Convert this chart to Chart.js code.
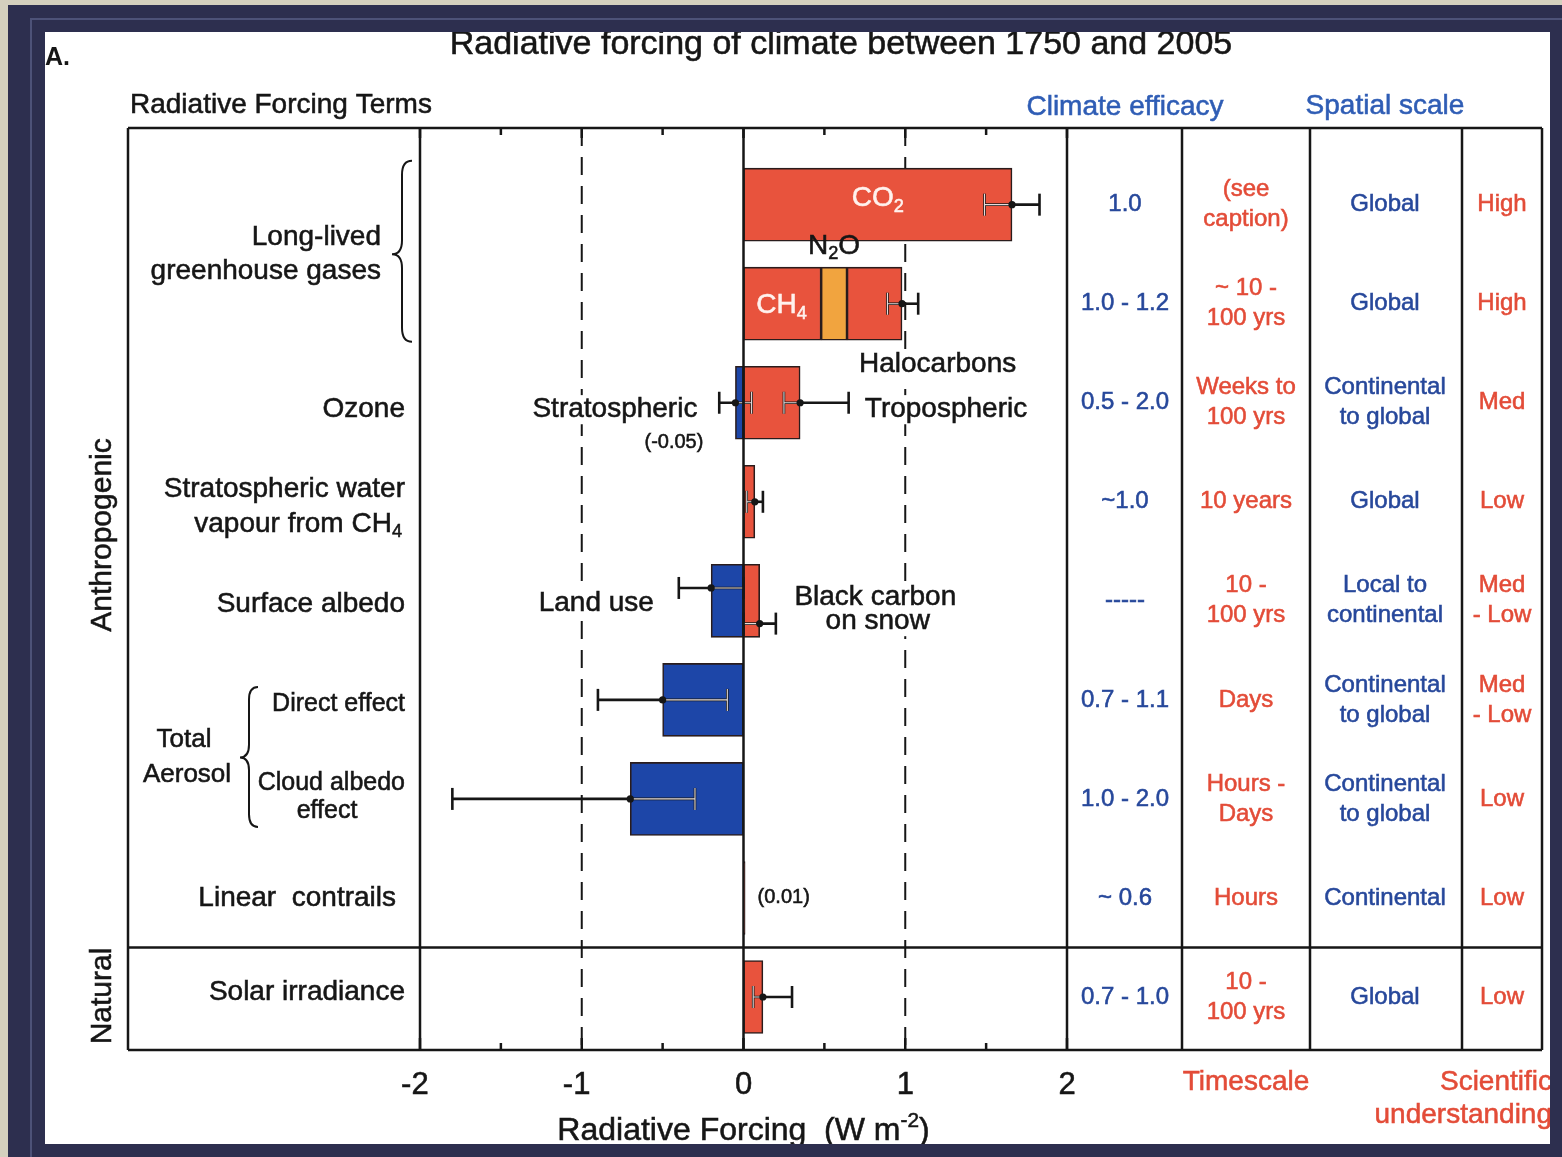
<!DOCTYPE html>
<html>
<head>
<meta charset="utf-8">
<title>Radiative forcing of climate between 1750 and 2005</title>
<script src="https://cdn.jsdelivr.net/npm/chart.js@4.4.1/dist/chart.umd.min.js"></script>
<style>
  html, body { margin: 0; padding: 0; }
  body { width: 1562px; height: 1157px; background: #d4d0be; position: relative; overflow: hidden; }
  #frame { position: absolute; left: 8px; top: 5px; right: 0; bottom: 0; background: #2d2f4f; }
  #ring { position: absolute; left: 30px; top: 18px; right: 0; bottom: 0; border-left: 2px solid #4d5278; border-top: 2px solid #4d5278; }
  #panel { position: absolute; left: 45px; top: 32px; width: 1505px; height: 1112px; background: #fff; overflow: hidden; }
  #chart { position: absolute; left: -45px; top: -32px; width: 1562px; height: 1157px; }
</style>
</head>
<body>
<div id="frame"></div>
<div id="ring"></div>
<div id="panel"><canvas id="chart" width="1562" height="1157"></canvas></div>
<script>
"use strict";

// ---- data ------------------------------------------------------------
// one bar segment per forcing component (W m-2), row = line of the figure
const components   = ["CO2", "CH4", "N2O", "Halocarbons", "Stratospheric ozone", "Tropospheric ozone",
                      "Stratospheric water vapour", "Land use", "Black carbon on snow",
                      "Direct effect", "Cloud albedo effect", "Linear contrails", "Solar irradiance"];
const componentRow = [0, 1, 1, 1, 2, 2, 3, 4, 4, 5, 6, 7, 8];
const forcing      = [1.66, 0.48, 0.16, 0.34, -0.05, 0.35, 0.07, -0.20, 0.10, -0.50, -0.70, 0.01, 0.12];

// uncertainty ranges
const rangeRow  = [0, 1, 2, 2, 3, 4, 4, 5, 6, 8];
const rangeBest = [1.66, 0.98, -0.05, 0.35, 0.07, -0.20, 0.10, -0.50, -0.70, 0.12];
const rangeLow  = [1.49, 0.89, -0.15, 0.25, 0.02, -0.40, 0.00, -0.90, -1.80, 0.06];
const rangeHigh = [1.83, 1.08, 0.05, 0.65, 0.12, 0.00, 0.20, -0.10, -0.30, 0.30];

const xTicks      = [-2, -1, 0, 1, 2];
const xMinorTicks = [-1.5, -0.5, 0.5, 1.5];

// table columns, one entry per row
const efficacy  = ["1.0", "1.0 - 1.2", "0.5 - 2.0", "~1.0", "-----", "0.7 - 1.1", "1.0 - 2.0", "~ 0.6", "0.7 - 1.0"];
const timescale = [["(see", "caption)"], ["~ 10 -", "100 yrs"], ["Weeks to", "100 yrs"], ["10 years"],
                   ["10 -", "100 yrs"], ["Days"], ["Hours -", "Days"], ["Hours"], ["10 -", "100 yrs"]];
const spatial   = [["Global"], ["Global"], ["Continental", "to global"], ["Global"], ["Local to", "continental"],
                   ["Continental", "to global"], ["Continental", "to global"], ["Continental"], ["Global"]];
const understanding = [["High"], ["High"], ["Med"], ["Low"], ["Med", "- Low"], ["Med", "- Low"], ["Low"], ["Low"], ["Low"]];

// ---- style -----------------------------------------------------------
const FONT = '"Liberation Sans", Arial, Helvetica, sans-serif';
const INK = "#161616";
const RED = "#e8533d", BLUE = "#1d46a8", ORANGE = "#f1a43f";
const TXT_BLUE = "#27489b", HEAD_BLUE = "#2f5db5", TXT_RED = "#e34c38";
const RANGE_NUDGE = { 5: -0.13, 6: 0.23 };   // land use / black carbon ranges sit apart
const BAR_T = 73;
const COLS = { eff: 1125, time: 1246, space: 1385, sci: 1502 };
const GRID_X = [128, 1182, 1310, 1462, 1542];

// stack segments that share a row and a sign
const segStart = [], segEnd = [];
const acc = {};
forcing.forEach((f, i) => {
  const key = componentRow[i] + (f < 0 ? "n" : "p");
  const s = acc[key] || 0;
  segStart.push(s);
  segEnd.push(s + f);
  acc[key] = s + f;
});
const barColor = forcing.map((f, i) => components[i] === "N2O" ? ORANGE : (f < 0 ? BLUE : RED));

// ---- helpers ---------------------------------------------------------
function parseRich(str) {
  const out = [], re = /([_^])\{([^}]*)\}/g;
  let last = 0, m;
  while ((m = re.exec(str))) {
    if (m.index > last) out.push({ t: str.slice(last, m.index), k: "" });
    out.push({ t: m[2], k: m[1] });
    last = re.lastIndex;
  }
  if (last < str.length) out.push({ t: str.slice(last), k: "" });
  return out;
}

function text(ctx, str, x, y, opt = {}) {
  const size = opt.size || 28, parts = parseRich(str);
  const font = s => (opt.bold ? "bold " : "") + s + "px " + FONT;
  let w = 0;
  parts.forEach(p => {
    ctx.font = font(p.k ? size * 0.65 : size);
    p.w = ctx.measureText(p.t).width;
    w += p.w;
  });
  let cx = opt.align === "right" ? x - w : opt.align === "left" ? x : x - w / 2;
  if (opt.bg) {
    ctx.fillStyle = "#fff";
    ctx.fillRect(cx - 4, y - size * 0.52, w + 8, size * 1.04);
  }
  const col = opt.color || INK;
  ctx.fillStyle = col;
  ctx.strokeStyle = col;
  ctx.lineWidth = 0.55;
  ctx.setLineDash([]);
  ctx.textBaseline = "middle";
  ctx.textAlign = "left";
  parts.forEach(p => {
    ctx.font = font(p.k ? size * 0.65 : size);
    const dy = p.k === "_" ? size * 0.28 : p.k === "^" ? -size * 0.32 : 0;
    ctx.fillText(p.t, cx, y + dy);
    if (!opt.bold) ctx.strokeText(p.t, cx, y + dy);
    cx += p.w;
  });
}

function lines(ctx, list, x, y, gap, opt) {
  const y0 = y - (list.length - 1) * gap / 2;
  list.forEach((s, i) => text(ctx, s, x, y0 + i * gap, opt));
}

function seg(ctx, x0, y0, x1, y1) {
  ctx.beginPath();
  ctx.moveTo(x0, y0);
  ctx.lineTo(x1, y1);
  ctx.stroke();
}

function brace(ctx, xTip, xEnd, top, bottom, tipY) {
  const w = xEnd - xTip, xm = xTip + w * 0.5, r = w * 0.7;
  ctx.beginPath();
  ctx.moveTo(xEnd, top);
  ctx.quadraticCurveTo(xm, top, xm, top + r);
  ctx.lineTo(xm, tipY - r);
  ctx.quadraticCurveTo(xm, tipY, xTip, tipY);
  ctx.quadraticCurveTo(xm, tipY, xm, tipY + r);
  ctx.lineTo(xm, bottom - r);
  ctx.quadraticCurveTo(xm, bottom, xEnd, bottom);
  ctx.stroke();
}

// ---- plugin: frame, ranges, labels, table ----------------------------
const decor = {
  id: "decor",
  beforeDatasetsDraw(chart) {
    const { ctx, chartArea: a, scales: { x, y } } = chart;
    const X = v => x.getPixelForValue(v), Y = v => y.getPixelForValue(v);
    ctx.save();
    ctx.strokeStyle = INK;
    ctx.lineWidth = 2;
    ctx.setLineDash([18, 11]);
    [-1, 1].forEach(v => {
      const px = X(v);
      seg(ctx, px, a.top, px, a.bottom);
    });
    ctx.restore();

    // labels that sit over the dashed lines, on white
    ctx.save();
    text(ctx, "Halocarbons", X(1.2), Y(1.61), { bg: true });
    text(ctx, "Stratospheric", X(-0.285), Y(2.07), { align: "right", bg: true });
    text(ctx, "Tropospheric", X(0.75), Y(2.07), { align: "left", bg: true });
    text(ctx, "Land use", X(-0.91), Y(4.02), { bg: true });
    text(ctx, "Black carbon", X(0.815), Y(3.96), { bg: true });
    text(ctx, "on snow", X(0.83), Y(4.21), { bg: true });
    ctx.restore();
  },

  afterDatasetsDraw(chart) {
    const { ctx, chartArea: a, scales: { x, y } } = chart;
    ctx.save();

    // uncertainty ranges
    rangeRow.forEach((r, i) => {
      const py = y.getPixelForValue(r + (RANGE_NUDGE[i] || 0));
      const x0 = x.getPixelForValue(rangeLow[i]), x1 = x.getPixelForValue(rangeHigh[i]);
      const draw = (col, lw) => {
        ctx.strokeStyle = col;
        ctx.lineWidth = lw;
        seg(ctx, x0, py, x1, py);
        seg(ctx, x0, py - 11, x0, py + 11);
        seg(ctx, x1, py - 11, x1, py + 11);
      };
      draw(INK, 2.6);
      ctx.save();
      ctx.beginPath();
      components.forEach((c, j) => {
        if (componentRow[j] !== r) return;
        const bx0 = x.getPixelForValue(Math.min(segStart[j], segEnd[j]));
        const bx1 = x.getPixelForValue(Math.max(segStart[j], segEnd[j]));
        const by = y.getPixelForValue(r);
        ctx.rect(bx0 + 1, by - BAR_T / 2, bx1 - bx0 - 2, BAR_T);
      });
      ctx.clip();
      draw("#e4dcdc", 1.1);
      ctx.restore();
      ctx.fillStyle = INK;
      ctx.beginPath();
      ctx.arc(x.getPixelForValue(rangeBest[i]), py, 3.6, 0, Math.PI * 2);
      ctx.fill();
    });

    // zero line
    ctx.strokeStyle = INK;
    ctx.lineWidth = 2.5;
    const x0 = x.getPixelForValue(0);
    seg(ctx, x0, a.top, x0, a.bottom);

    // frame and table grid
    const ySep = y.getPixelForValue(7.5);
    [a.top, ySep, a.bottom].forEach(py => seg(ctx, GRID_X[0], py, GRID_X[GRID_X.length - 1], py));
    [...GRID_X, a.left, a.right].forEach(px => seg(ctx, px, a.top, px, a.bottom));

    // ticks
    ctx.lineWidth = 2.5;
    xTicks.forEach(v => {
      const px = x.getPixelForValue(v);
      seg(ctx, px, a.bottom, px, a.bottom - 12);
      seg(ctx, px, a.top, px, a.top + 10);
    });
    xMinorTicks.forEach(v => {
      const px = x.getPixelForValue(v);
      seg(ctx, px, a.bottom, px, a.bottom - 7);
      seg(ctx, px, a.top, px, a.top + 7);
    });

    // labels inside the plot
    const X = v => x.getPixelForValue(v), Y = v => y.getPixelForValue(v);
    text(ctx, "CO_{2}", X(0.83), Y(-0.06), { color: "#fff2ee" });
    text(ctx, "CH_{4}", X(0.235), Y(1.02), { color: "#fff2ee" });
    text(ctx, "N_{2}O", X(0.56), Y(0.42));
    text(ctx, "(-0.05)", X(-0.43), Y(2.4), { size: 20 });
    text(ctx, "(0.01)", X(0.087), Y(7), { size: 20, align: "left" });

    ctx.restore();
  },

  afterDraw(chart) {
    const { ctx, chartArea: a, scales: { x, y } } = chart;
    const Y = v => y.getPixelForValue(v);
    ctx.save();

    // headings
    text(ctx, "A.", 45, 58, { size: 25, bold: true, align: "left" });
    text(ctx, "Radiative forcing of climate between 1750 and 2005", 841, 45, { size: 34 });
    text(ctx, "Radiative Forcing Terms", 130, 105, { align: "left" });
    text(ctx, "Climate efficacy", COLS.eff, 107, { color: HEAD_BLUE });
    text(ctx, "Spatial scale", COLS.space, 106, { color: HEAD_BLUE });
    text(ctx, "Timescale", COLS.time, 1082, { color: TXT_RED });
    text(ctx, "Scientific", 1552, 1082, { color: TXT_RED, align: "right" });
    text(ctx, "understanding", 1552, 1115, { color: TXT_RED, align: "right" });

    // x axis
    xTicks.forEach(v => {
      const px = x.getPixelForValue(v);
      const s = String(Math.abs(v));
      ctx.font = "31px " + FONT;
      const dw = ctx.measureText(s).width;
      text(ctx, (v < 0 ? "-" : "") + s, px + dw / 2, a.bottom + 35, { size: 31, align: "right" });
    });
    text(ctx, "Radiative Forcing  (W m^{-2})", x.getPixelForValue(0), 1131, { size: 32 });

    // row labels
    const mid01 = (Y(0) + Y(1)) / 2;
    text(ctx, "Long-lived", 381, mid01 - 17, { align: "right" });
    text(ctx, "greenhouse gases", 381, mid01 + 17, { align: "right" });
    ctx.strokeStyle = INK;
    ctx.lineWidth = 2;
    brace(ctx, 392, 412, Y(0) - 44, Y(1) + 38, mid01);
    text(ctx, "Ozone", 405, Y(2.07), { align: "right" });
    text(ctx, "Stratospheric water", 405, Y(3) - 13, { align: "right" });
    text(ctx, "vapour from CH_{4}", 402, Y(3) + 22, { align: "right" });
    text(ctx, "Surface albedo", 405, Y(4.03), { align: "right" });
    text(ctx, "Direct effect", 405, Y(5.04), { size: 25, align: "right" });
    text(ctx, "Cloud albedo", 405, Y(6) - 16, { size: 25, align: "right" });
    text(ctx, "effect", 327, Y(6) + 12, { size: 25 });
    const mid56 = (Y(5) + Y(6)) / 2;
    text(ctx, "Total", 184, mid56 - 10, { size: 26 });
    text(ctx, "Aerosol", 187, mid56 + 25, { size: 26 });
    ctx.strokeStyle = INK;
    ctx.lineWidth = 2;
    brace(ctx, 240, 258, Y(5) - 13, Y(6) + 28, mid56 + 8);
    text(ctx, "Linear  contrails", 396, Y(7), { align: "right" });
    text(ctx, "Solar irradiance", 405, Y(8) - 5, { align: "right" });

    // side group labels
    [["Anthropogenic", 535], ["Natural", 996]].forEach(([s, cy]) => {
      ctx.save();
      ctx.translate(103, cy);
      ctx.rotate(-Math.PI / 2);
      text(ctx, s, 0, 0, { size: 30 });
      ctx.restore();
    });

    // table
    for (let r = 0; r < efficacy.length; r++) {
      const py = Y(r);
      lines(ctx, [efficacy[r]], COLS.eff, py, 30, { size: 24, color: TXT_BLUE });
      lines(ctx, timescale[r], COLS.time, py, 30, { size: 24, color: TXT_RED });
      lines(ctx, spatial[r], COLS.space, py, 30, { size: 24, color: TXT_BLUE });
      lines(ctx, understanding[r], COLS.sci, py, 30, { size: 24, color: TXT_RED });
    }
    ctx.restore();
  }
};

// ---- chart -----------------------------------------------------------
Chart.defaults.font.family = FONT;

new Chart(document.getElementById("chart").getContext("2d"), {
  type: "bar",
  data: {
    datasets: [{
      label: "Radiative forcing",
      data: components.map((c, i) => ({ x: [segStart[i], segEnd[i]], y: componentRow[i] })),
      backgroundColor: barColor,
      borderColor: "#2a1c1c",
      borderWidth: 1.6,
      borderSkipped: false,
      barThickness: BAR_T,
    }],
  },
  options: {
    indexAxis: "y",
    responsive: false,
    animation: false,
    events: [],
    layout: { padding: { left: 420, right: 495, top: 128, bottom: 107 } },
    scales: {
      x: { type: "linear", min: -2, max: 2, display: false },
      y: { type: "linear", min: -0.774, max: 8.535, reverse: true, offset: false, display: false },
    },
    plugins: { legend: { display: false }, tooltip: { enabled: false } },
  },
  plugins: [decor],
});
</script>
</body>
</html>
